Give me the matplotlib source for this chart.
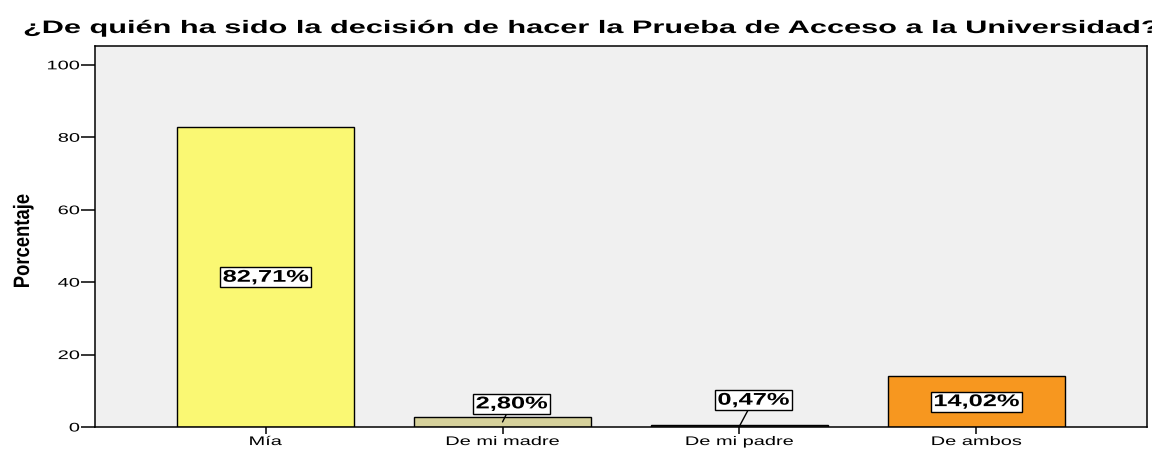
import matplotlib
matplotlib.use("Agg")
import matplotlib.pyplot as plt
from matplotlib.patheffects import AbstractPathEffect
from matplotlib.transforms import Affine2D
from matplotlib.path import Path

categories = ["Mía", "De mi madre", "De mi padre", "De ambos"]
values = [82.71, 2.80, 0.47, 14.02]
labels = ["82,71%", "2,80%", "0,47%", "14,02%"]
colors = ["#FAF873", "#D6D19B", "#4A4A3A", "#F7971F"]
yticks = [0, 20, 40, 60, 80, 100]
title = "¿De quién ha sido la decisión de hacer la Prueba de Acceso a la Universidad?"
ylabel = "Porcentaje"


class Stretch(AbstractPathEffect):
    """Scale text glyphs along the text direction around an anchor."""
    def __init__(self, sx, anchor="center"):
        super().__init__()
        self.sx = sx
        self.anchor = anchor

    def draw_path(self, renderer, gc, tpath, affine, rgbFace=None):
        ext = tpath.get_extents()
        if self.anchor == "left":
            cx = 0.0
        elif self.anchor == "right":
            cx = ext.x1
        else:
            cx = 0.5 * (ext.x0 + ext.x1)
        t = Affine2D().translate(-cx, 0).scale(self.sx, 1).translate(cx, 0) + affine
        renderer.draw_path(gc, tpath, t, rgbFace)


def wide_box(sx, padx, pady):
    def box(x0, y0, width, height, mutation_size):
        cx = x0 + width / 2
        hw = width * sx / 2 + padx
        xa, xb = cx - hw, cx + hw
        ya, yb = y0 - pady, y0 + height + pady
        return Path([(xa, ya), (xb, ya), (xb, yb), (xa, yb), (xa, ya)],
                    [Path.MOVETO, Path.LINETO, Path.LINETO, Path.LINETO, Path.CLOSEPOLY])
    return box


SX = 1.6
fig = plt.figure(figsize=(11.52, 4.52), dpi=100)
ax = fig.add_axes([95/1152, 1-428/452, (1147-95)/1152, (428-47)/452])
ax.set_facecolor("#F0F0F0")
x = list(range(len(categories)))
ax.bar(x, values, width=0.75, color=colors, edgecolor="black", linewidth=1.0, zorder=2)
ax.set_xlim(-0.72, 3.72)
ax.set_ylim(0, 105.2)
ax.set_xticks(x)
ax.set_xticklabels(categories, fontsize=9, family="Liberation Sans")
ax.set_yticks(yticks)
ax.set_yticklabels([str(t) for t in yticks], fontsize=9, family="Liberation Sans")
ax.tick_params(axis="y", length=10, width=1.1, direction="out", pad=1)
ax.tick_params(axis="x", length=5, width=1.1, direction="out", pad=1.5)
for s in ax.spines.values():
    s.set_linewidth(1.1)
    s.set_color("black")

ax.set_ylabel(ylabel, fontsize=16, fontweight="bold", family="Liberation Sans")
ax.yaxis.set_label_coords(-0.058, 0.488)
ax.yaxis.label.set_path_effects([Stretch(0.83, "center")])

lab_font = dict(fontsize=12.2, fontweight="bold", family="Liberation Sans")
box = dict(boxstyle=wide_box(1.5, 3, 2.5), facecolor="white", edgecolor="black", linewidth=1.0)
offsets = {1: (6.5, 13), 2: (10, 18.7)}
for i, (v, lab) in enumerate(zip(values, labels)):
    if v > 10:
        t = ax.text(i, v/2, lab, ha="center", va="center", bbox=box, zorder=4, **lab_font)
    else:
        t = ax.annotate(lab, xy=(i, v/2), xytext=offsets[i], textcoords="offset points",
                        ha="center", va="center", bbox=box,
                        arrowprops=dict(arrowstyle="-", color="black", lw=1.0,
                                        shrinkA=0, shrinkB=0),
                        zorder=4, **lab_font)
    t.set_path_effects([Stretch(1.5, "center")])

tt = fig.text(23/1152, 1-34/452, title, fontsize=13, fontweight="bold",
              family="Liberation Sans", ha="left", va="baseline")
tt.set_path_effects([Stretch(1.70, "left")])

fig.canvas.draw()
for lbl in ax.get_xticklabels():
    lbl.set_path_effects([Stretch(SX, "center")])
for lbl in ax.get_yticklabels():
    lbl.set_path_effects([Stretch(SX, "right")])

fig.savefig("out.png", dpi=100, facecolor="white")
